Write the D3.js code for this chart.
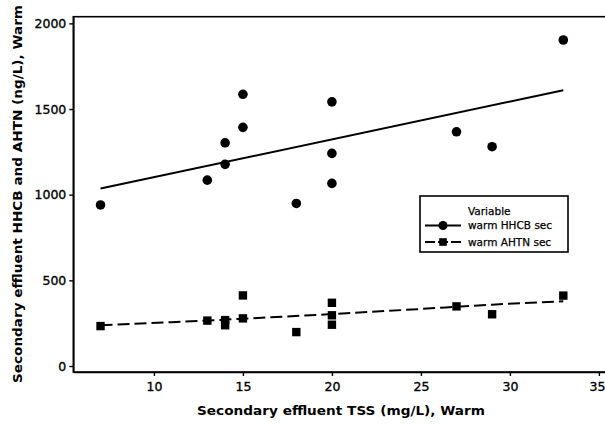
<!DOCTYPE html>
<html lang="en">

<head>
    <meta charset="UTF-8">
    <title>Secondary effluent TSS vs HHCB and AHTN, Warm</title>
    <script src="https://d3js.org/d3.v7.min.js"></script>
    <style>
        body {
            margin: 0;
            background: #fff;
            font-family: "DejaVu Sans", Verdana, sans-serif;
        }

        svg {
            display: block;
        }
    </style>
</head>

<body>
    <div id="chart"></div>

    <script>
        // values
        const tssHHCB = [7, 13, 14, 14, 15, 15, 18, 20, 20, 20, 27, 29, 33];
        const valHHCB = [940, 1085, 1303, 1177, 1586, 1393, 949, 1542, 1241, 1066, 1367, 1280, 1903];

        const tssAHTN = [7, 13, 14, 14, 15, 15, 18, 20, 20, 20, 27, 29, 33];
        const valAHTN = [233, 265, 268, 238, 412, 278, 198, 369, 296, 241, 348, 302, 411];

        // fitted lines as drawn in the figure
        const fitHHCBx = [7, 33];
        const fitHHCBy = [1036, 1610];
        const fitAHTNx = [7, 11, 15, 20, 25, 29, 33];
        const fitAHTNy = [238, 256, 276, 303, 333, 358, 378];

        const xTicks = [10, 15, 20, 25, 30, 35];
        const yTicks = [0, 500, 1000, 1500, 2000];

        const seriesNames = ["warm HHCB sec", "warm AHTN sec"];

        const width = 605;
        const height = 424;
        const plot = { left: 73.3, top: 16.7, right: 607.8, bottom: 372 };

        const x = d3.scaleLinear().domain([5.47, 35.5]).range([plot.left, plot.right]);
        const y = d3.scaleLinear().domain([-35, 2039]).range([plot.bottom, plot.top]);

        const svg = d3.select("#chart")
            .append("svg")
            .attr("width", width)
            .attr("height", height);

        // frame (top edge; right edge falls off the page)
        svg.append("rect")
            .attr("x", plot.left)
            .attr("y", plot.top)
            .attr("width", plot.right - plot.left)
            .attr("height", plot.bottom - plot.top)
            .attr("fill", "none")
            .attr("stroke", "#000")
            .attr("stroke-width", 1.6);

        const xAxis = svg.append("g")
            .attr("transform", `translate(0,${plot.bottom})`)
            .call(d3.axisBottom(x).tickValues(xTicks).tickFormat(d3.format("d"))
                .tickSize(4).tickPadding(6).tickSizeOuter(0));

        const yAxis = svg.append("g")
            .attr("transform", `translate(${plot.left},0)`)
            .call(d3.axisLeft(y).tickValues(yTicks).tickFormat(d3.format("d"))
                .tickSize(4).tickPadding(3).tickSizeOuter(0));

        [xAxis, yAxis].forEach(g => {
            g.select(".domain").attr("stroke", "#000").attr("stroke-width", 1.6);
            g.selectAll(".tick line").attr("stroke", "#000").attr("stroke-width", 1.4);
            g.selectAll(".tick text")
                .attr("fill", "#000")
                .attr("stroke", "#000")
                .attr("stroke-width", 0.35)
                .style("font-family", "'DejaVu Sans', Verdana, sans-serif")
                .style("font-size", "12.5px");
        });

        // the last x label sits against the page edge, as in the scan
        xAxis.selectAll(".tick text")
            .filter(d => d === 35)
            .attr("text-anchor", "end")
            .attr("x", 605 - x(35));

        // axis titles
        svg.append("text")
            .attr("x", 341)
            .attr("y", 415)
            .attr("text-anchor", "middle")
            .attr("textLength", 288)
            .attr("lengthAdjust", "spacingAndGlyphs")
            .style("font-size", "13px")
            .style("font-weight", "bold")
            .text("Secondary effluent TSS (mg/L), Warm");

        svg.append("text")
            .attr("transform", "translate(22,194) rotate(-90)")
            .attr("text-anchor", "middle")
            .attr("textLength", 378)
            .attr("lengthAdjust", "spacingAndGlyphs")
            .style("font-size", "13px")
            .style("font-weight", "bold")
            .text("Secondary effluent HHCB and AHTN (ng/L), Warm");

        // fit lines
        const line = d3.line().x(d => x(d[0])).y(d => y(d[1]));

        svg.append("path")
            .datum(d3.zip(fitHHCBx, fitHHCBy))
            .attr("d", line)
            .attr("fill", "none")
            .attr("stroke", "#000")
            .attr("stroke-width", 2);

        svg.append("path")
            .datum(d3.zip(fitAHTNx, fitAHTNy))
            .attr("d", line.curve(d3.curveMonotoneX))
            .attr("fill", "none")
            .attr("stroke", "#000")
            .attr("stroke-width", 2)
            .attr("stroke-dasharray", "12,5");

        // points
        svg.append("g")
            .selectAll("circle")
            .data(d3.zip(tssHHCB, valHHCB))
            .join("circle")
            .attr("cx", d => x(d[0]))
            .attr("cy", d => y(d[1]))
            .attr("r", 4.8)
            .attr("fill", "#000");

        const sq = 8.4;
        svg.append("g")
            .selectAll("rect")
            .data(d3.zip(tssAHTN, valAHTN))
            .join("rect")
            .attr("x", d => x(d[0]) - sq / 2)
            .attr("y", d => y(d[1]) - sq / 2)
            .attr("width", sq)
            .attr("height", sq)
            .attr("fill", "#000");

        // legend
        const legend = svg.append("g").attr("transform", "translate(420,196)");

        legend.append("rect")
            .attr("width", 148)
            .attr("height", 56)
            .attr("fill", "#fff")
            .attr("stroke", "#000")
            .attr("stroke-width", 1.6);

        legend.append("text")
            .attr("x", 48)
            .attr("y", 18.5)
            .attr("stroke", "#000")
            .attr("stroke-width", 0.25)
            .style("font-size", "10.5px")
            .text("Variable");

        seriesNames.forEach((name, i) => {
            const ly = 29.5 + i * 16.5;
            legend.append("line")
                .attr("x1", 5)
                .attr("x2", 41)
                .attr("y1", ly)
                .attr("y2", ly)
                .attr("stroke", "#000")
                .attr("stroke-width", 2)
                .attr("stroke-dasharray", i === 1 ? "10,3" : null);
            if (i === 0) {
                legend.append("circle")
                    .attr("cx", 23)
                    .attr("cy", ly)
                    .attr("r", 4.5)
                    .attr("fill", "#000");
            } else {
                legend.append("rect")
                    .attr("x", 23 - 3.8)
                    .attr("y", ly - 3.8)
                    .attr("width", 7.6)
                    .attr("height", 7.6)
                    .attr("fill", "#000");
            }
            legend.append("text")
                .attr("x", 48)
                .attr("y", ly + 3.8)
                .attr("stroke", "#000")
                .attr("stroke-width", 0.25)
                .style("font-size", "10.5px")
                .text(name);
        });
    </script>
</body>

</html>
